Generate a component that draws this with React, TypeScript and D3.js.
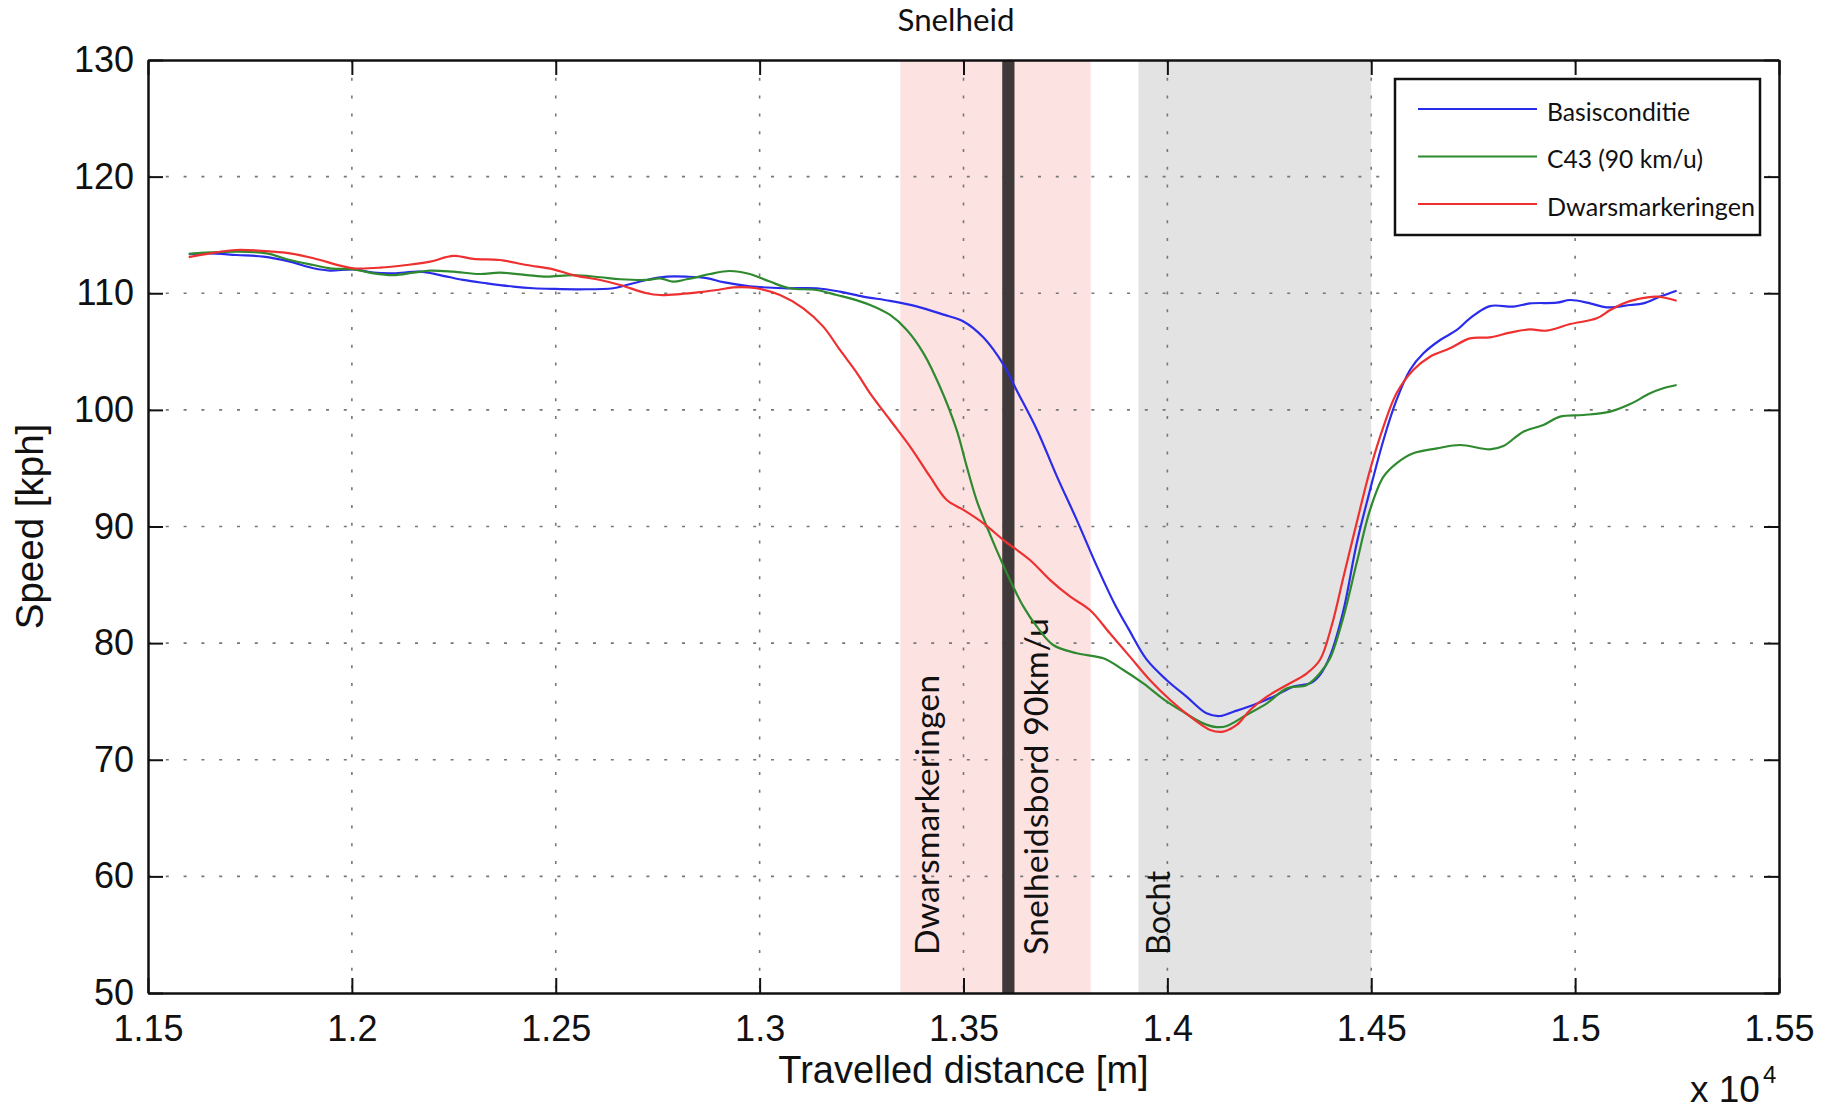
import { useEffect, useRef } from "react";
import * as d3 from "d3";

// distance [m], speed [kph]
const basisconditie: [number, number][] = [
  [11600, 113.35], [11650, 113.42], [11717, 113.28], [11783, 113.14], [11848, 112.71], [11906, 112.14],
  [11946, 111.94], [12004, 112.05], [12053, 111.77], [12102, 111.71], [12167, 111.85], [12216, 111.56],
  [12273, 111.14], [12331, 110.85], [12396, 110.57], [12445, 110.43], [12494, 110.37], [12559, 110.34],
  [12641, 110.43], [12674, 110.71], [12723, 111.14], [12772, 111.42], [12821, 111.42], [12870, 111.3],
  [12911, 110.95], [12976, 110.6], [13058, 110.43], [13140, 110.43], [13197, 110.14], [13254, 109.71],
  [13320, 109.35], [13385, 108.88], [13451, 108.17], [13500, 107.58], [13549, 106.2], [13598, 103.88],
  [13630, 101.7], [13680, 98.3], [13729, 94.3], [13778, 90.55], [13827, 86.6], [13870, 83.4],
  [13905, 81.2], [13949, 78.6], [13998, 76.84], [14047, 75.41], [14096, 73.98], [14129, 73.75],
  [14162, 74.12], [14211, 74.7], [14260, 75.41], [14309, 76.27], [14350, 76.55], [14374, 77.27],
  [14400, 79.0], [14432, 82.84], [14464, 88.5], [14497, 93.13], [14530, 97.42], [14562, 100.85],
  [14595, 103.42], [14628, 104.85], [14669, 105.99], [14710, 106.85], [14742, 107.85], [14791, 108.9],
  [14849, 108.85], [14889, 109.13], [14955, 109.19], [14988, 109.42], [15037, 109.13], [15077, 108.79],
  [15135, 108.99], [15167, 109.13], [15208, 109.71], [15249, 110.22],
];

const c43: [number, number][] = [
  [11600, 113.37], [11652, 113.5], [11717, 113.57], [11791, 113.42], [11848, 112.85], [11906, 112.42],
  [11946, 112.14], [12004, 112.05], [12053, 111.71], [12102, 111.56], [12151, 111.77], [12192, 111.94],
  [12249, 111.85], [12314, 111.65], [12363, 111.77], [12429, 111.56], [12478, 111.42], [12543, 111.56],
  [12609, 111.37], [12658, 111.2], [12723, 111.14], [12756, 111.28], [12788, 110.99], [12821, 111.2],
  [12854, 111.45], [12878, 111.65], [12927, 111.91], [12976, 111.65], [13025, 111.0], [13074, 110.43],
  [13140, 110.28], [13189, 109.85], [13222, 109.56], [13271, 109.0], [13320, 108.14], [13361, 106.85],
  [13402, 104.85], [13442, 102.0], [13483, 98.3], [13508, 95.13], [13532, 92.27], [13557, 90.0],
  [13581, 88.0], [13614, 85.42], [13647, 83.13], [13680, 81.41], [13720, 79.84], [13778, 79.13],
  [13843, 78.7], [13892, 77.7], [13941, 76.55], [13990, 75.2], [14039, 74.1], [14088, 73.12],
  [14121, 72.8], [14146, 72.9], [14194, 73.84], [14244, 74.84], [14293, 76.12], [14342, 76.41],
  [14374, 77.41], [14399, 78.7], [14432, 82.27], [14464, 86.84], [14497, 91.42], [14530, 94.27],
  [14562, 95.42], [14603, 96.28], [14661, 96.7], [14718, 96.99], [14791, 96.62], [14824, 96.9],
  [14873, 98.13], [14922, 98.7], [14963, 99.42], [15020, 99.56], [15086, 99.85], [15135, 100.5],
  [15184, 101.42], [15216, 101.85], [15249, 102.13],
];

const dwarsmarkeringen: [number, number][] = [
  [11600, 113.1], [11652, 113.42], [11717, 113.71], [11807, 113.57], [11848, 113.42], [11906, 113.0],
  [11971, 112.37], [12004, 112.14], [12069, 112.19], [12134, 112.42], [12192, 112.71], [12249, 113.2],
  [12298, 112.95], [12363, 112.85], [12429, 112.42], [12494, 112.05], [12543, 111.56], [12609, 111.14],
  [12658, 110.71], [12723, 110.0], [12756, 109.85], [12805, 109.93], [12854, 110.1], [12900, 110.3],
  [12935, 110.5], [12992, 110.43], [13050, 109.85], [13107, 108.71], [13156, 107.14], [13197, 105.14],
  [13238, 103.2], [13271, 101.42], [13320, 99.13], [13369, 96.85], [13418, 94.27], [13459, 92.27],
  [13500, 91.42], [13549, 90.27], [13598, 88.84], [13663, 87.13], [13712, 85.42], [13761, 84.0],
  [13810, 82.84], [13859, 80.84], [13908, 78.84], [13957, 76.84], [14007, 75.12], [14056, 73.7],
  [14105, 72.55], [14137, 72.41], [14170, 72.98], [14203, 74.27], [14244, 75.41], [14293, 76.41],
  [14342, 77.41], [14374, 78.55], [14403, 81.5], [14432, 85.7], [14464, 90.27], [14497, 94.85],
  [14530, 98.56], [14562, 101.42], [14603, 103.42], [14644, 104.56], [14693, 105.28], [14742, 106.13],
  [14791, 106.22], [14840, 106.62], [14889, 106.9], [14930, 106.79], [14988, 107.36], [15053, 107.85],
  [15086, 108.56], [15118, 109.13], [15151, 109.48], [15200, 109.71], [15249, 109.36],
];

const seriesNames = ["Basisconditie", "C43 (90 km/u)", "Dwarsmarkeringen"];
const xTickValues = [11500, 12000, 12500, 13000, 13500, 14000, 14500, 15000, 15500];
const xTickLabels = ["1.15", "1.2", "1.25", "1.3", "1.35", "1.4", "1.45", "1.5", "1.55"];
const yTickValues = [50, 60, 70, 80, 90, 100, 110, 120, 130];

// zones along the road [m]
const markingZone = [13345, 13812];
const signPost = [13595, 13625];
const bendZone = [13929, 14500];

export default function App() {
  const ref = useRef<SVGSVGElement>(null);

  useEffect(() => {
    const svg = d3.select(ref.current);
    svg.selectAll("*").remove();

    const W = 1833, H = 1111;
    const left = 148, right = 1779, top = 60, bottom = 993;
    const x = d3.scaleLinear().domain([11500, 15500]).range([left, right]);
    const y = d3.scaleLinear().domain([50, 130]).range([bottom, top]);
    const tickFont = "'Liberation Sans', Arial, sans-serif";
    const textFont = "Lato, 'Open Sans', sans-serif";

    svg.append("rect").attr("width", W).attr("height", H).attr("fill", "#fff");

    // shaded zones
    svg.append("rect")
      .attr("x", x(markingZone[0])).attr("y", top)
      .attr("width", x(markingZone[1]) - x(markingZone[0])).attr("height", bottom - top)
      .attr("fill", "#fde2e2");
    svg.append("rect")
      .attr("x", x(bendZone[0])).attr("y", top)
      .attr("width", x(bendZone[1]) - x(bendZone[0])).attr("height", bottom - top)
      .attr("fill", "#e3e3e3");

    // grid
    const grid = svg.append("g").attr("stroke", "#777").attr("stroke-width", 1.6)
      .attr("stroke-dasharray", "3,14.8");
    xTickValues.slice(1, -1).forEach(v => {
      grid.append("line").attr("x1", x(v)).attr("x2", x(v)).attr("y1", top).attr("y2", bottom);
    });
    yTickValues.slice(1, -1).forEach(v => {
      grid.append("line").attr("x1", left).attr("x2", right).attr("y1", y(v)).attr("y2", y(v));
    });

    // speed sign
    svg.append("rect")
      .attr("x", x(signPost[0])).attr("y", top)
      .attr("width", x(signPost[1]) - x(signPost[0])).attr("height", bottom - top)
      .attr("fill", "#3f3939");

    // zone labels
    const zoneLabel = (txt: string, at: number, len: number) => {
      svg.append("text")
        .attr("transform", `translate(${x(at)},955) rotate(-90)`)
        .attr("textLength", len).attr("lengthAdjust", "spacingAndGlyphs")
        .style("font-family", textFont).style("font-size", "32px").attr("fill", "#111")
        .text(txt);
    };
    zoneLabel("Dwarsmarkeringen", 13440, 280);
    zoneLabel("Snelheidsbord 90km/u", 13707, 337);
    zoneLabel("Bocht", 14006, 84);

    // axes
    const xAxis = svg.append("g").attr("transform", `translate(0,${bottom})`)
      .call(d3.axisBottom(x).tickValues(xTickValues).tickSize(-15).tickSizeOuter(0).tickPadding(22)
        .tickFormat((_, i) => xTickLabels[i]));
    const yAxis = svg.append("g").attr("transform", `translate(${left},0)`)
      .call(d3.axisLeft(y).tickValues(yTickValues).tickSize(-15).tickSizeOuter(0).tickPadding(14));
    const topAxis = svg.append("g").attr("transform", `translate(0,${top})`)
      .call(d3.axisTop(x).tickValues(xTickValues).tickSize(-15).tickSizeOuter(0).tickFormat(() => ""));
    const rightAxis = svg.append("g").attr("transform", `translate(${right},0)`)
      .call(d3.axisRight(y).tickValues(yTickValues).tickSize(-15).tickSizeOuter(0).tickFormat(() => ""));
    [xAxis, yAxis, topAxis, rightAxis].forEach(a => {
      a.select(".domain").attr("stroke", "#111").attr("stroke-width", 2.5);
      a.selectAll(".tick line").attr("stroke", "#111").attr("stroke-width", 2);
      a.selectAll("text").style("font-family", tickFont).style("font-size", "36px").attr("fill", "#111");
    });

    svg.append("text")
      .attr("x", (left + right) / 2).attr("y", 1083).attr("text-anchor", "middle")
      .style("font-family", tickFont).style("font-size", "38px").attr("fill", "#111")
      .text("Travelled distance [m]");
    svg.append("text")
      .attr("transform", `translate(43,${(top + bottom) / 2}) rotate(-90)`).attr("text-anchor", "middle")
      .style("font-family", tickFont).style("font-size", "38.5px").attr("fill", "#111")
      .text("Speed [kph]");
    const expo = svg.append("text").attr("x", 1690).attr("y", 1102)
      .style("font-family", tickFont).style("font-size", "37px").attr("fill", "#111");
    expo.append("tspan").text("x 10");
    expo.append("tspan").attr("dy", -19).attr("dx", 3).style("font-size", "24px").text("4");

    // title
    svg.append("text")
      .attr("x", 956).attr("y", 31).attr("text-anchor", "middle")
      .attr("textLength", 117).attr("lengthAdjust", "spacingAndGlyphs")
      .style("font-family", textFont).style("font-size", "30px").attr("fill", "#111")
      .text("Snelheid");

    // curves
    const colors = ["#2b2bea", "#2f8a2f", "#ee3030"];
    const line = d3.line<[number, number]>()
      .x(d => x(d[0])).y(d => y(d[1]))
      .curve(d3.curveCatmullRom.alpha(0.5));
    [basisconditie, c43, dwarsmarkeringen].forEach((s, i) => {
      svg.append("path").datum(s).attr("d", line)
        .attr("fill", "none").attr("stroke", colors[i]).attr("stroke-width", 2.2);
    });

    // legend
    const lg = svg.append("g");
    lg.append("rect").attr("x", 1395).attr("y", 79).attr("width", 365).attr("height", 156)
      .attr("fill", "#fff").attr("stroke", "#111").attr("stroke-width", 2.5);
    const legendLens = [143, 156, 208];
    seriesNames.forEach((name, i) => {
      const ly = 109 + i * 47.5;
      lg.append("line").attr("x1", 1418).attr("x2", 1537).attr("y1", ly).attr("y2", ly)
        .attr("stroke", colors[i]).attr("stroke-width", 2.2);
      lg.append("text").attr("x", 1547).attr("y", ly + 11.5)
        .attr("textLength", legendLens[i]).attr("lengthAdjust", "spacingAndGlyphs")
        .style("font-family", textFont).style("font-size", "24.5px").attr("fill", "#111")
        .text(name);
    });
  }, []);

  return <svg ref={ref} width={1833} height={1111} style={{ position: "absolute", left: 0, top: 0 }} />;
}
